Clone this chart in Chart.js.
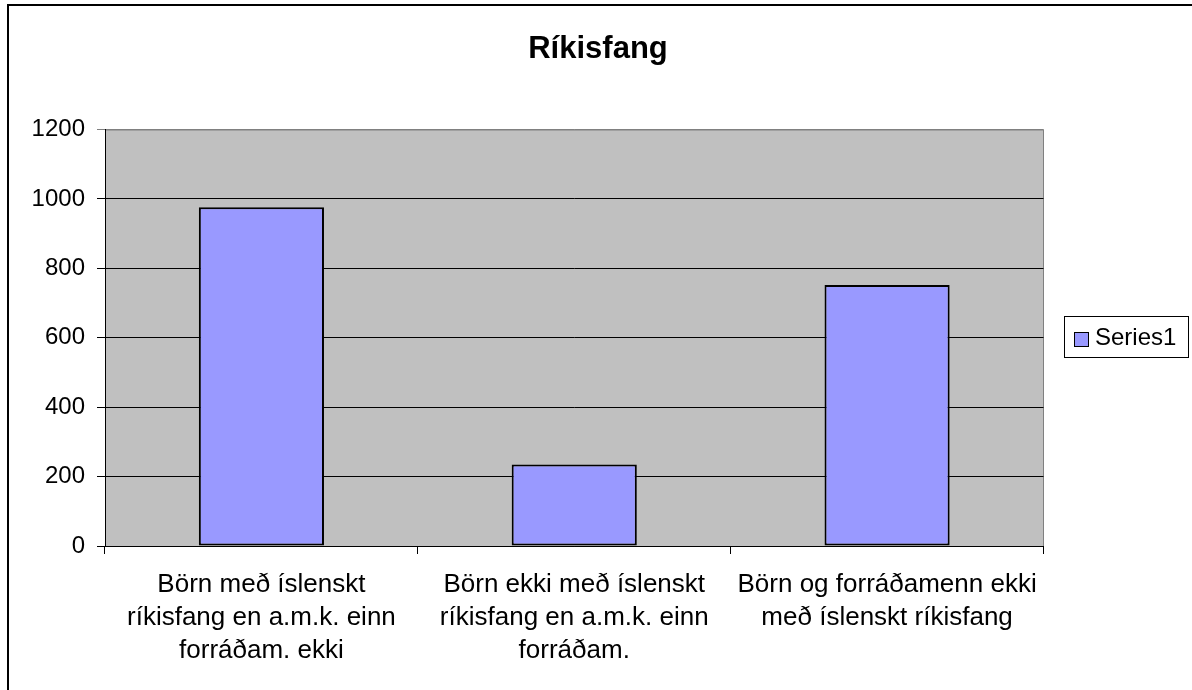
<!DOCTYPE html>
<html>
<head>
<meta charset="utf-8">
<style>
  html, body { margin: 0; padding: 0; background: #fff; }
  #wrap { position: relative; width: 1192px; height: 690px; }
</style>
<script src="https://cdn.jsdelivr.net/npm/chart.js@4/dist/chart.umd.min.js"></script>
</head>
<body>
<div id="wrap"><canvas id="chart" width="1192" height="690"></canvas></div>
<script>
const titleText = "Ríkisfang"
const seriesName = "Series1"

const categories = [
    ["Börn með íslenskt", "ríkisfang en a.m.k. einn", "forráðam. ekki"],
    ["Börn ekki með íslenskt", "ríkisfang en a.m.k. einn", "forráðam."],
    ["Börn og forráðamenn ekki", "með íslenskt ríkisfang"]
]

const values = [976, 235, 752]

const yTicks = [0, 200, 400, 600, 800, 1000, 1200]

const barColor = "#9999FF"
const fontFamily = "'Liberation Sans', Arial, sans-serif"

// white page, outer frame, title and grey plot area
const backdrop = {
    id: "backdrop",
    beforeDraw(chart){
        const c = chart.ctx
        const a = chart.chartArea
        c.save()
        c.fillStyle = "#fff"
        c.fillRect(0, 0, chart.width, chart.height)
        c.strokeStyle = "#000"
        c.lineWidth = 2
        c.beginPath()
        c.moveTo(8, chart.height + 2)
        c.lineTo(8, 5)
        c.lineTo(chart.width + 2, 5)
        c.stroke()
        c.fillStyle = "#C0C0C0"
        c.fillRect(a.left, a.top, a.right - a.left, a.bottom - a.top)
        c.strokeStyle = "#808080"
        c.lineWidth = 1
        c.strokeRect(a.left + 0.5, a.top + 0.5, a.right - a.left - 0.5, a.bottom - a.top)

        c.fillStyle = "#000"
        c.font = "bold 31px " + fontFamily
        c.textAlign = "center"
        c.textBaseline = "alphabetic"
        c.fillText(titleText, 598, 58)
        c.restore()
    }
}

// boxed legend like the original
const boxLegend = {
    id: "boxLegend",
    afterDraw(chart){
        const c = chart.ctx
        const ds = chart.data.datasets[0]
        c.save()
        c.strokeStyle = "#000"
        c.lineWidth = 1
        c.strokeRect(1064.5, 316.5, 124, 41)
        c.fillStyle = ds.backgroundColor
        c.fillRect(1074.5, 332.5, 14, 14)
        c.strokeRect(1074.5, 332.5, 14, 14)
        c.fillStyle = "#000"
        c.font = "24px " + fontFamily
        c.textBaseline = "middle"
        c.textAlign = "left"
        c.fillText(ds.label, 1095, 338)
        c.restore()
    }
}

const ctx = document.getElementById("chart").getContext("2d")

const chart = new Chart(ctx, {
    type: "bar",
    data: {
        labels: categories,
        datasets: [{
            label: seriesName,
            data: values,
            backgroundColor: barColor,
            borderColor: "#000",
            borderWidth: 2,
            borderSkipped: false,
            categoryPercentage: 1,
            barPercentage: 0.4
        }]
    },
    options: {
        responsive: false,
        animation: false,
        layout: {
            padding: { left: 0, right: 148.5, top: 129.5, bottom: 0 }
        },
        plugins: {
            legend: { display: false },
            tooltip: { enabled: false },
            title: { display: false }
        },
        scales: {
            x: {
                afterFit(scale){ scale.height = 144 },
                border: { display: true, color: "#000", width: 1 },
                grid: {
                    offset: true,
                    drawOnChartArea: false,
                    drawTicks: true,
                    tickLength: 8,
                    color: "#000"
                },
                ticks: {
                    color: "#000",
                    padding: 14,
                    maxRotation: 0,
                    autoSkip: false,
                    font: { family: fontFamily, size: 26, lineHeight: 1.27 }
                }
            },
            y: {
                min: 0,
                max: 1200,
                afterFit(scale){ scale.width = 105 },
                afterBuildTicks(scale){
                    scale.ticks = yTicks.map(v => ({ value: v }))
                },
                border: { display: true, color: "#000", width: 1 },
                grid: {
                    drawTicks: true,
                    tickLength: 8,
                    color: c => (c.tick && c.tick.value === 1200) ? "#808080" : "#000"
                },
                ticks: {
                    color: "#000",
                    padding: 12,
                    font: { family: fontFamily, size: 24 },
                    callback: v => String(v)
                }
            }
        }
    },
    plugins: [backdrop, boxLegend]
})
</script>
</body>
</html>
